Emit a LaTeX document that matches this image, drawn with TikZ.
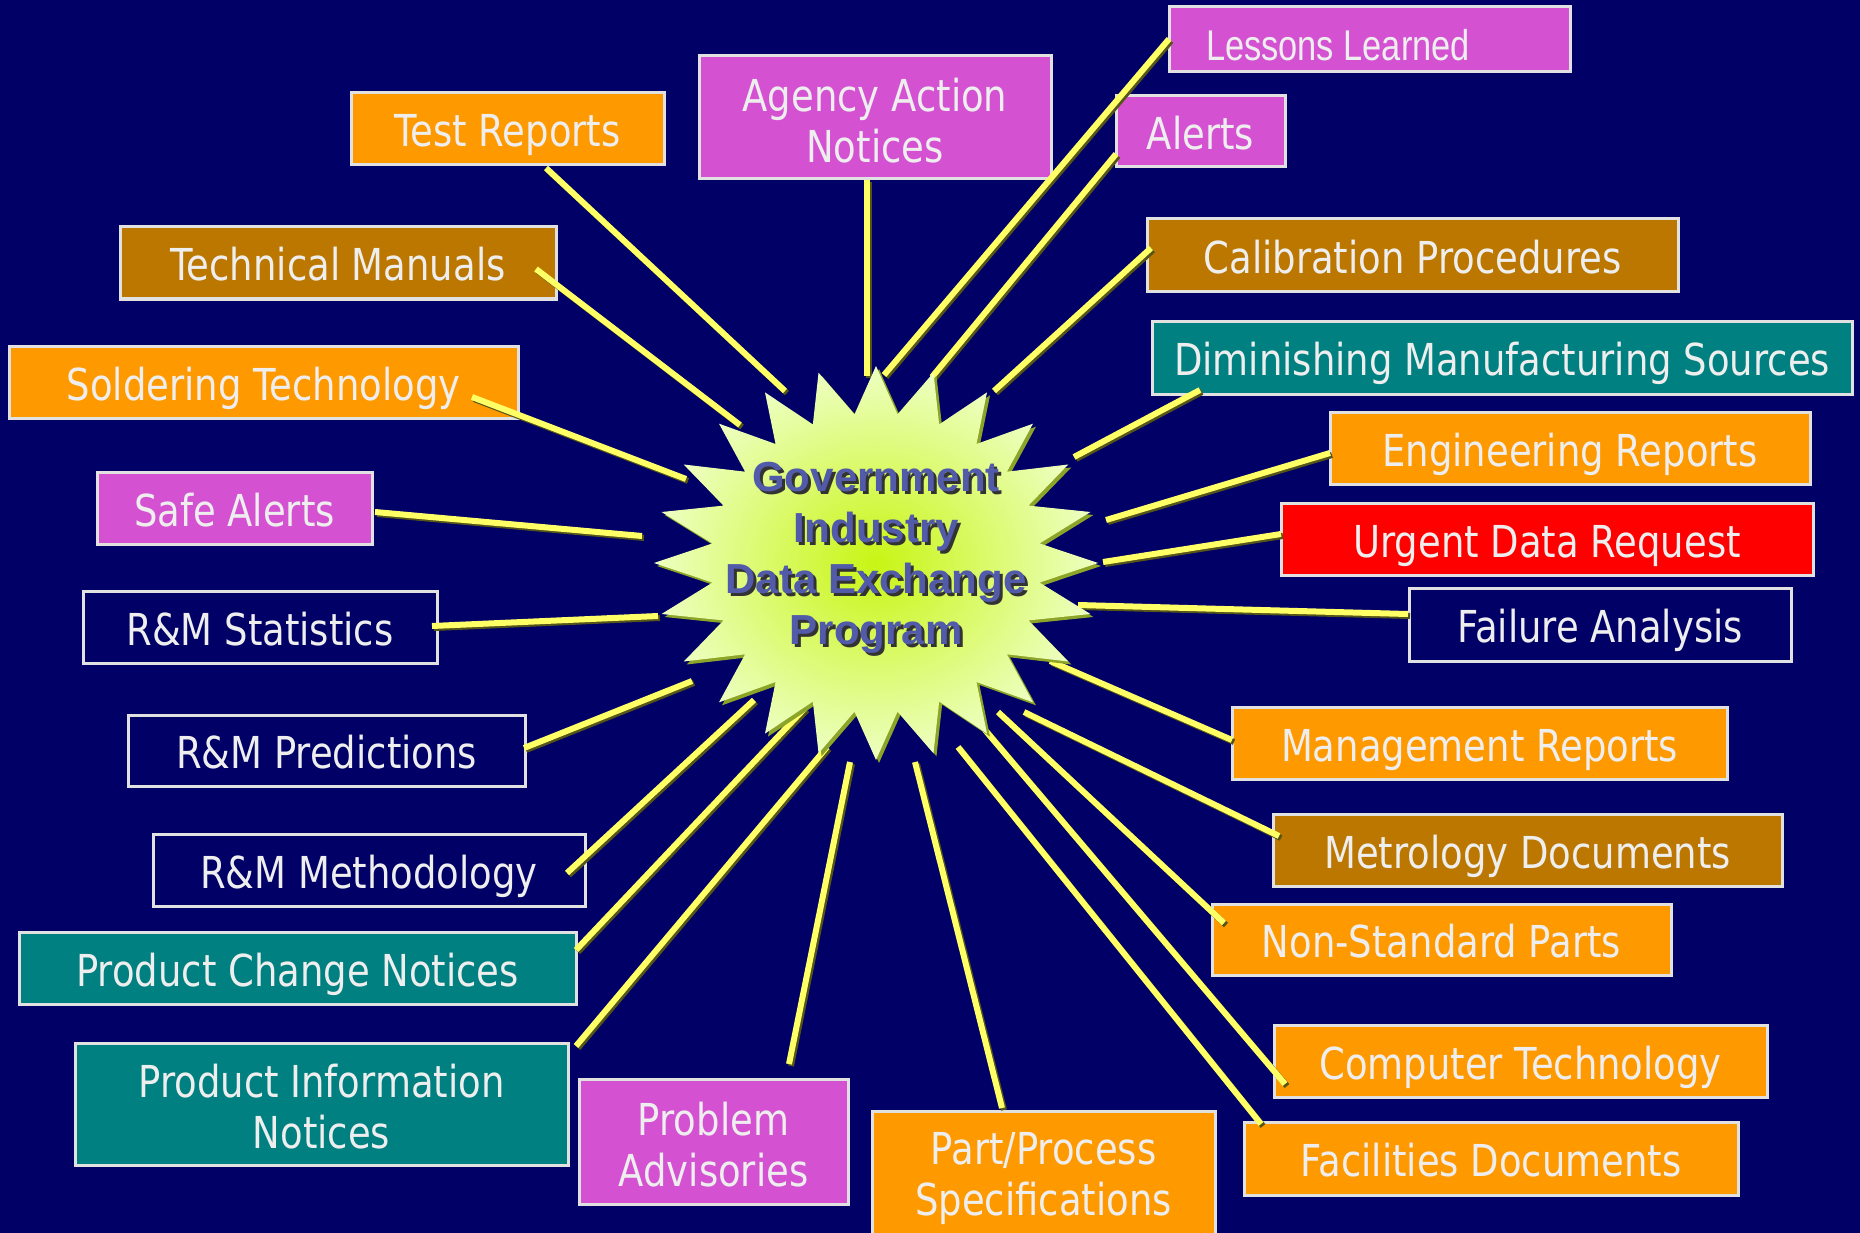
\documentclass[tikz,border=0pt]{standalone}
\usepackage{fontspec}
\setmainfont{DejaVu Sans}[FakeStretch=0.84]
\newfontfamily\starfont{Liberation Sans}
\newfontfamily\narrowfont{Liberation Sans}[FakeStretch=0.8]
\definecolor{bg}{RGB}{0,0,102}
\definecolor{orng}{RGB}{255,153,0}
\definecolor{gold}{RGB}{187,119,0}
\definecolor{mag}{RGB}{212,82,210}
\definecolor{tealc}{RGB}{0,128,128}
\definecolor{redc}{RGB}{255,0,0}
\definecolor{boxtext}{RGB}{238,238,238}
\definecolor{boxline}{RGB}{225,225,225}
\definecolor{ray}{RGB}{255,255,102}
\definecolor{rayshadow}{RGB}{85,85,25}
\definecolor{startxt}{RGB}{82,90,170}
\definecolor{starsh}{RGB}{140,165,40}
\tikzset{
  box/.style={draw=boxline, line width=3pt, fill=#1, text=boxtext, align=center, inner sep=0pt,
              font=\fontsize{44}{51}\selectfont},
  oneline/.style={text height=36pt, text depth=0pt},
  conn/.style={draw=ray, line width=6pt},
  connsh/.style={draw=rayshadow, line width=6pt},
}
% name, fill, cx, cy, w, h, text
\newcommand{\bx}[7]{\node[box=#2, oneline, minimum width=#5pt, minimum height=#6pt] (#1) at (#3,#4) {#7};}
\newcommand{\bxx}[7]{%
  \node[box=#2, minimum width=#5pt, minimum height=#6pt] (#1) at (#3,#4) {};
  \node[text=boxtext, align=center, inner sep=0pt, font=\fontsize{44}{51}\selectfont, yshift=-3pt] (#1T) at (#1) {#7};}
% name, start, end
\newcommand{\cn}[3]{%
  \coordinate (#1a) at (#2); \coordinate (#1b) at (#3);
  \draw[connsh] ([shift={(2,2)}]#1a) -- ([shift={(2,2)}]#1b);
  \draw[conn] (#1a) -- (#1b);}
\begin{document}
\begin{tikzpicture}[x=1pt,y=-1pt]
\useasboundingbox (0,0) rectangle (1860,1233);
\clip (0,0) rectangle (1860,1233);
\fill[bg] (0,0) rectangle (1860,1233);

% boxes
\node[box=mag, minimum width=401pt, minimum height=65pt] (lessons) at (1369.5,39.5) {};
\node[text=boxtext, inner sep=0pt, text height=31pt, text depth=0pt,
      font=\narrowfont\fontsize{43}{51}\selectfont] (lessonsT) at (1338,45) {Lessons Learned};
\bx{alerts}{mag}{1200.5}{131.5}{169}{71}{Alerts}
\bxx{agency}{mag}{875}{117.5}{352}{123}{Agency Action\\Notices}
\bx{test}{orng}{507.5}{129}{313}{72}{Test Reports}
\bx{techman}{gold}{338}{263}{436}{72}{Technical Manuals}
\bx{solder}{orng}{263.5}{382}{509}{72}{Soldering Technology}
\bx{safe}{mag}{234.5}{508}{275}{72}{Safe Alerts}
\bx{rmstat}{bg}{260}{627}{354}{72}{R\&M Statistics}
\bx{rmpred}{bg}{326.5}{750.5}{397}{71}{R\&M Predictions}
\bx{rmmeth}{bg}{369}{870}{432}{72}{R\&M Methodology}
\bx{pcn}{tealc}{297.5}{968}{557}{72}{Product Change Notices}
\bxx{pin}{tealc}{321.5}{1104}{493}{122}{Product Information\\Notices}
\bxx{problem}{mag}{713.5}{1141.5}{269}{125}{Problem\\Advisories}
\bxx{partproc}{orng}{1043.5}{1176}{343}{130}{Part/Process\\Specifications}
\bx{facilities}{orng}{1491}{1158.5}{494}{73}{Facilities Documents}
\bx{computer}{orng}{1520.5}{1061}{493}{72}{Computer Technology}
\bx{nonstd}{orng}{1441.5}{939.5}{459}{71}{Non-Standard Parts}
\bx{metro}{gold}{1527.5}{850}{509}{72}{Metrology Documents}
\bx{mgmt}{orng}{1479.5}{743}{495}{72}{Management Reports}
\bx{failure}{bg}{1600}{624.5}{382}{73}{Failure Analysis}
\bx{urgent}{redc}{1547}{539}{532}{72}{Urgent Data Request}
\bx{eng}{orng}{1570}{448}{480}{72}{Engineering Reports}
\bx{dms}{tealc}{1502}{357.5}{700}{73}{Diminishing Manufacturing Sources}
\bx{calib}{gold}{1412.5}{255.5}{531}{73}{Calibration Procedures}

% connectors
\cn{lessonsC}{1169,39}{884,375}
\cn{alertsC}{1116,154}{932,377}
\cn{agencyC}{867,180}{867,376}
\cn{testC}{546,168}{785,391}
\cn{techmanC}{536,269}{740,425}
\cn{solderC}{472,397}{686,479}
\cn{safeC}{375,512}{642,536}
\cn{rmstatC}{432,626}{658,616}
\cn{rmpredC}{524,748}{692,681}
\cn{rmmethC}{567,873}{754,700}
\cn{pcnC}{576,950}{805,708}
\cn{pinC}{576,1046}{827,747}
\cn{problemC}{789,1064}{850,762}
\cn{partprocC}{1002,1108}{915,762}
\cn{facilitiesC}{1261,1124}{958,747}
\cn{computerC}{1285,1084}{985,730}
\cn{nonstdC}{1224,923}{998,712}
\cn{metroC}{1279,836}{1024,712}
\cn{mgmtC}{1232,740}{1050,661}
\cn{failureC}{1408,614}{1078,605}
\cn{urgentC}{1281,534}{1103,562}
\cn{engC}{1330,453}{1106,520}
\cn{dmsC}{1200,390}{1074,457}
\cn{calibC}{1151,248}{994,391}

% star
\fill[starsh] plot[variable=\k, samples at={0,...,47}]
  ({879+ifthenelse(mod(\k,2)==0,222,165)*cos(90-7.5*\k)},
   {566-ifthenelse(mod(\k,2)==0,197,150)*sin(90-7.5*\k)}) -- cycle;
\shade[inner color={rgb,255:red,200;green,245;blue,20}, outer color={rgb,255:red,238;green,255;blue,195}]
  plot[variable=\k, samples at={0,...,47}]
  ({876+ifthenelse(mod(\k,2)==0,222,165)*cos(90-7.5*\k)},
   {563-ifthenelse(mod(\k,2)==0,197,150)*sin(90-7.5*\k)}) -- cycle;
\node[align=center, text=black!80, inner sep=0pt, font=\starfont\bfseries\fontsize{42}{51}\selectfont]
  (starShadow) at (879,561) {Government\\Industry\\Data Exchange\\Program};
\node[align=center, text=startxt, inner sep=0pt, font=\starfont\bfseries\fontsize{42}{51}\selectfont]
  (star) at (876,558) {Government\\Industry\\Data Exchange\\Program};
\end{tikzpicture}
\end{document}
